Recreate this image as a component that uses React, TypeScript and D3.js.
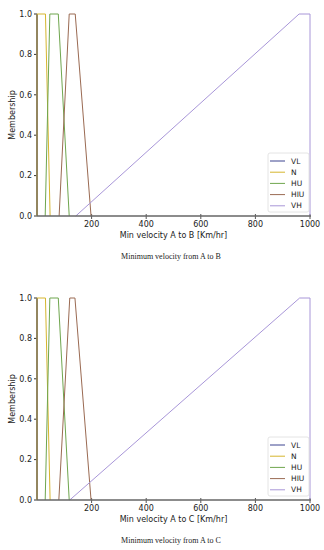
import { scaleLinear, line } from 'd3'

const W = 324
const H = 550

const terms = ['VL', 'N', 'HU', 'HIU', 'VH']
const colors = ['#3d4590', '#d6b62e', '#6fa64e', '#9a6a52', '#a896d8']
const trapY = [0, 1, 1, 0]

// breakpoints [a, b, c, d] of each trapezoid, km/hr
const abVL = [0, 0, 0, 0]
const abN = [0, 0, 31, 48]
const abHU = [30, 47, 78, 118]
const abHIU = [81, 118, 140, 198]
const abVH = [142, 960, 1000, 1000]

const acVL = [0, 0, 0, 0]
const acN = [0, 0, 31, 48]
const acHU = [30, 47, 78, 118]
const acHIU = [80, 120, 139, 198]
const acVH = [120, 962, 1000, 1000]

const xTicks = [200, 400, 600, 800, 1000]
const yTicks = [0, 0.2, 0.4, 0.6, 0.8, 1.0]

const panels = [
  { top: 14, sets: [abVL, abN, abHU, abHIU, abVH], xlabel: 'Min velocity A to B [Km/hr]', caption: 'Minimum velocity from A to B' },
  { top: 298, sets: [acVL, acN, acHU, acHIU, acVH], xlabel: 'Min velocity A to C [Km/hr]', caption: 'Minimum velocity from A to C' },
]

const left = 37
const right = 310
const innerH = 202
const sans = 'DejaVu Sans, sans-serif'

function Panel({ top, sets, xlabel, caption }: { top: number; sets: number[][]; xlabel: string; caption: string }) {
  const x = scaleLinear().domain([0, 1000]).range([left, right])
  const y = scaleLinear().domain([0, 1]).range([top + innerH, top])
  const path = line<number>()
    .x(d => x(d))
    .y((d, i) => y(trapY[i]))
  const bottom = top + innerH
  const lgTop = bottom - 63
  return (
    <g>
      {yTicks.map(t => (
        <g key={t}>
          <line x1={left - 3} x2={left} y1={y(t)} y2={y(t)} stroke="#333" strokeWidth={1} />
          <text x={left - 5} y={y(t)} dy="0.35em" textAnchor="end" fontSize={8} fontFamily={sans} fill="#222">{t.toFixed(1)}</text>
        </g>
      ))}
      {xTicks.map(t => (
        <g key={t}>
          <line x1={x(t)} x2={x(t)} y1={bottom - 2} y2={bottom + 3} stroke="#555" strokeWidth={1} />
          <text x={x(t)} y={bottom + 11} textAnchor="middle" fontSize={8} fontFamily={sans} fill="#222">{t}</text>
        </g>
      ))}
      <line x1={left} x2={left} y1={top} y2={bottom} stroke="#222" strokeWidth={1} />
      {sets.map((s, i) => (
        <path key={terms[i]} d={path(s) ?? ''} fill="none" stroke={colors[i]} strokeWidth={1} />
      ))}
      <line x1={left} x2={right + 1} y1={bottom} y2={bottom} stroke="#666" strokeWidth={1.6} />
      <text transform={`translate(15,${(top + bottom) / 2}) rotate(-90)`} textAnchor="middle" fontSize={8} fontFamily={sans} fill="#222">Membership</text>
      <text x={(left + right) / 2} y={bottom + 22} textAnchor="middle" fontSize={8} fontFamily={sans} fill="#222">{xlabel}</text>
      <text x={171} y={bottom + 43} textAnchor="middle" fontSize={8} fontFamily="Liberation Serif, serif" fill="#222">{caption}</text>
      <rect x={268} y={lgTop} width={41} height={59} rx={2} fill="white" fillOpacity={0.85} stroke="#ddd" strokeWidth={0.8} />
      {terms.map((t, i) => (
        <g key={t}>
          <line x1={270} x2={285} y1={lgTop + 8 + i * 11.2} y2={lgTop + 8 + i * 11.2} stroke={colors[i]} strokeWidth={1} />
          <text x={291} y={lgTop + 8 + i * 11.2} dy="0.35em" fontSize={7.5} fontFamily={sans} fill="#222">{t}</text>
        </g>
      ))}
    </g>
  )
}

export default function App() {
  return (
    <svg width={W} height={H} style={{ position: 'absolute', left: 0, top: 0, background: 'white' }}>
      {panels.map(p => (
        <Panel key={p.caption} {...p} />
      ))}
    </svg>
  )
}
